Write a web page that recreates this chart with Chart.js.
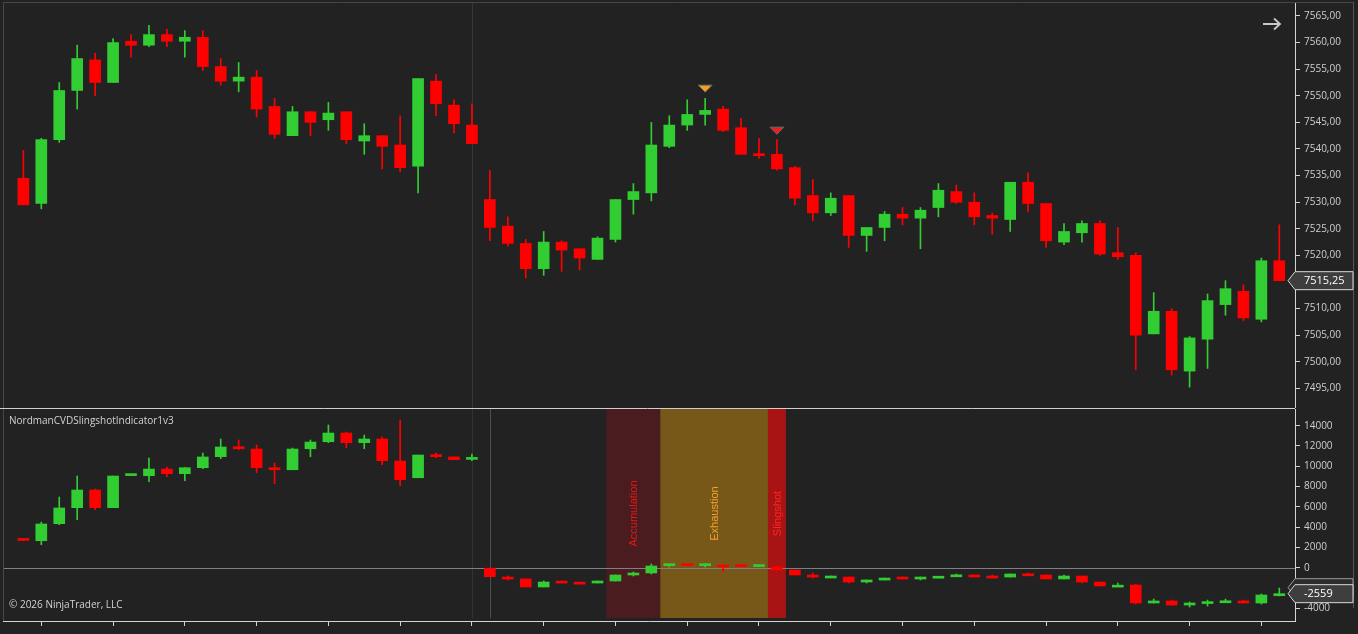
<!DOCTYPE html>
<html>
<head>
<meta charset="utf-8">
<title>ES 7515,25 - CVD Slingshot</title>
<script src="https://cdn.jsdelivr.net/npm/chart.js@4.4.1/dist/chart.umd.min.js"></script>
<style>
  html, body { margin: 0; padding: 0; background: #222222; }
  #wrap { position: relative; width: 1358px; height: 634px; background: #222222; overflow: hidden; }
  canvas { position: absolute; left: 0; }
  #priceChart { top: 0; }
  #cvdChart { top: 408px; }
</style>
</head>
<body>
<div id="wrap">
  <canvas id="priceChart" width="1358" height="408"></canvas>
  <canvas id="cvdChart" width="1358" height="226"></canvas>
</div>
<script>
// ---- price bars (one per x index) ----
const priceOpen  = [7534.5, 7529.75, 7541.75, 7551.0, 7556.75, 7552.5, 7560.25, 7559.5, 7561.5, 7560.25,
  7561.0, 7555.5, 7552.75, 7553.5, 7548.0, 7542.5, 7547.0, 7545.5, 7547.0, 7541.5,
  7542.5, 7540.75, 7536.75, 7552.75, 7548.25, 7544.5, 7530.5, 7525.5, 7522.25, 7517.5,
  7522.5, 7521.25, 7519.25, 7523.0, 7530.5, 7531.75, 7540.5, 7544.5, 7546.5, 7547.5,
  7544.0, 7539.0, 7539.0, 7536.5, 7531.25, 7528.0, 7531.25, 7523.75, 7525.25, 7527.75,
  7527.0, 7529.0, 7532.0, 7530.0, 7527.5, 7526.75, 7533.75, 7529.75, 7522.5, 7524.25,
  7526.0, 7520.5, 7520.0, 7505.25, 7509.5, 7498.25, 7504.25, 7510.75, 7513.25, 7508.0,
  7519.0];
const priceHigh  = [7539.75, 7542.0, 7552.5, 7559.5, 7558.0, 7560.75, 7561.5, 7563.25, 7562.5, 7562.25,
  7562.25, 7557.0, 7556.25, 7554.75, 7549.5, 7548.0, 7547.0, 7548.75, 7547.0, 7544.75,
  7542.5, 7546.25, 7553.25, 7554.0, 7549.25, 7548.5, 7536.0, 7527.25, 7523.0, 7524.5,
  7522.75, 7521.25, 7523.5, 7530.5, 7533.5, 7545.0, 7546.25, 7549.25, 7549.5, 7548.0,
  7545.75, 7542.0, 7541.75, 7536.75, 7534.25, 7531.75, 7531.25, 7525.25, 7528.25, 7529.0,
  7529.0, 7533.5, 7533.25, 7531.75, 7528.0, 7533.75, 7535.5, 7529.75, 7526.0, 7526.5,
  7526.5, 7525.25, 7520.5, 7513.0, 7510.0, 7504.75, 7512.75, 7515.25, 7514.5, 7519.5,
  7525.75];
const priceLow   = [7529.5, 7528.75, 7541.25, 7547.5, 7550.0, 7552.5, 7557.25, 7559.25, 7559.25, 7557.25,
  7554.75, 7552.0, 7550.75, 7546.0, 7542.0, 7542.5, 7542.5, 7543.5, 7541.0, 7539.0,
  7536.25, 7535.75, 7531.75, 7546.25, 7543.0, 7541.0, 7522.75, 7521.75, 7515.75, 7516.25,
  7517.0, 7517.25, 7519.25, 7522.5, 7527.75, 7530.25, 7540.25, 7543.5, 7544.5, 7543.25,
  7539.0, 7538.25, 7536.0, 7529.5, 7526.5, 7527.5, 7521.5, 7520.75, 7522.75, 7525.75,
  7521.25, 7527.25, 7529.75, 7525.75, 7524.0, 7524.5, 7528.25, 7521.5, 7522.0, 7522.5,
  7520.0, 7519.25, 7498.5, 7505.25, 7497.5, 7495.25, 7498.75, 7508.75, 7507.75, 7507.5,
  7515.25];
const priceClose = [7529.5, 7541.75, 7551.0, 7557.0, 7552.5, 7560.0, 7559.5, 7561.5, 7560.25, 7561.0,
  7555.5, 7552.75, 7553.5, 7547.5, 7542.75, 7547.0, 7545.0, 7546.75, 7541.75, 7542.5,
  7540.5, 7536.5, 7553.25, 7548.5, 7544.75, 7541.0, 7525.25, 7522.25, 7517.5, 7522.5,
  7521.0, 7519.5, 7523.25, 7530.5, 7532.0, 7540.75, 7544.5, 7546.5, 7547.25, 7543.5,
  7539.0, 7538.75, 7536.25, 7530.75, 7528.0, 7530.75, 7523.75, 7525.25, 7527.75, 7527.0,
  7528.5, 7532.25, 7530.0, 7527.25, 7527.0, 7533.75, 7529.75, 7522.75, 7524.5, 7526.0,
  7520.25, 7519.75, 7505.0, 7509.5, 7498.5, 7504.5, 7511.5, 7513.75, 7508.25, 7519.0,
  7515.25];

// ---- cumulative volume delta bars ----
const cvdOpen  = [2720, 2660, 4340, 5920, 7660, 5920, 9080, 9070, 9730, 9270,
  9860, 10950, 11930, 11700, 9860, 9660, 11730, 12420, 13280, 12330,
  12690, 10520, 8870, 11110, 10920, 10680, 0, -920, -1110, -1900,
  -1320, -1420, -1510, -1310, -720, -520, 200, 260, 200, 270,
  160, 110, 70, -230, -720, -880, -920, -1410, -1210, -920,
  -960, -880, -760, -720, -820, -920, -600, -720, -1110, -820,
  -1410, -1770, -1710, -3480, -3280, -3680, -3420, -3320, -3280, -3480,
  -2600];
const cvdHigh  = [2720, 4500, 6970, 9040, 7760, 9040, 9140, 10820, 9930, 9860,
  11310, 12690, 12590, 12100, 10320, 11800, 12590, 14070, 13380, 13080,
  12890, 14560, 11110, 11310, 10920, 11210, 0, -820, -1110, -1310,
  -1320, -1420, -1310, -720, -420, 370, 260, 340, 370, 270,
  160, 160, 170, -230, -520, -820, -920, -1210, -1020, -920,
  -920, -840, -620, -720, -720, -620, -520, -720, -720, -820,
  -1410, -1510, -1610, -3090, -3190, -3380, -3190, -3090, -3190, -2590,
  -2000];
const cvdLow   = [2690, 2270, 4240, 4730, 5720, 5920, 9080, 8480, 8970, 8580,
  9760, 10750, 11640, 9370, 8280, 9660, 10950, 12330, 11830, 11730,
  10160, 8090, 8870, 10850, 10650, 10550, -890, -1210, -1900, -1900,
  -1380, -1610, -1510, -1310, -820, -620, 70, 200, 70, -420,
  110, 110, -300, -720, -1020, -880, -1510, -1510, -1210, -970,
  -1210, -1020, -760, -770, -1020, -920, -680, -1110, -1110, -1510,
  -1800, -1770, -3580, -3480, -3680, -3880, -3780, -3320, -3480, -3580,
  -2790];
const cvdClose = [2690, 4310, 5890, 7660, 5920, 9040, 9140, 9730, 9270, 9860,
  10920, 11900, 11730, 9860, 9660, 11700, 12390, 13280, 12330, 12690,
  10550, 8680, 11110, 10950, 10650, 10740, -890, -1110, -1900, -1410,
  -1380, -1470, -1310, -720, -520, 170, 260, 200, 260, 70,
  110, 160, -230, -720, -920, -820, -1410, -1210, -1020, -970,
  -920, -840, -700, -770, -870, -620, -680, -1110, -820, -1410,
  -1800, -1720, -3480, -3280, -3680, -3480, -3340, -3260, -3480, -2690,
  -2559];

// price axis / cvd axis ticks
const priceTicks = [7495, 7500, 7505, 7510, 7515, 7520, 7525, 7530, 7535, 7540, 7545, 7550, 7555, 7560, 7565];
const cvdTicks = [-4000, -2000, 0, 2000, 4000, 6000, 8000, 10000, 12000, 14000];
const timeTicks = [1, 5, 9, 13, 17, 21, 25, 29, 33, 37, 41, 45, 49, 53, 57, 61, 65, 69];

// signal markers on the price panel (bar index / price of the marker top)
const markerIndex = [38, 42];
const markerPrice = [7552.0, 7544.1];

// indicator zones (first and last bar index of each zone)
const zoneLabels = ['Accumulation', 'Exhaustion', 'Slingshot'];
const zoneStart = [33, 36, 42];
const zoneEnd = [35, 41, 42];

const sessionBreakPrice = 25;
const sessionBreakCvd = 26;

// styles
const UP = '#32cd32';
const DOWN = '#ff0000';
const AXIS_TEXT = '#cfcfcf';
const AXIS_LINE = '#d4d4d4';
const markerColors = ['#f5a01a', '#ee1c1c'];
const zoneFill = ['#4b1c1f', '#785818', '#a81414'];
const zoneText = ['#e41818', '#f2a22c', '#ff2424'];

const X_MIN = -1.135;
const X_MAX = 70.875;

Chart.defaults.font.family = "'Open Sans', 'DejaVu Sans', sans-serif";

// wick + body datasets for a set of bars
const candleSets = (open, high, low, close) => {
  const colors = open.map((o, i) => close[i] >= o ? UP : DOWN);
  return [
    {
      data: open.map((o, i) => ({ x: i, y: [low[i], high[i]] })),
      backgroundColor: colors,
      barThickness: 1,
      minBarLength: 1,
      grouped: false,
      order: 2
    },
    {
      data: open.map((o, i) => ({ x: i, y: [o, close[i]] })),
      backgroundColor: colors,
      barThickness: 11,
      minBarLength: 2,
      grouped: false,
      order: 1
    }
  ];
};

// value tag on the right axis
const drawTag = (ctx, y, text, fill, stroke) => {
  ctx.beginPath();
  ctx.moveTo(1288, y);
  ctx.lineTo(1295, y - 9);
  ctx.lineTo(1353, y - 9);
  ctx.lineTo(1353, y + 9);
  ctx.lineTo(1295, y + 9);
  ctx.closePath();
  ctx.fillStyle = fill;
  ctx.fill();
  ctx.strokeStyle = stroke;
  ctx.lineWidth = 1;
  ctx.stroke();
  if (text) {
    ctx.fillStyle = '#ffffff';
    ctx.font = "11px 'Open Sans'";
    ctx.textAlign = 'left';
    ctx.textBaseline = 'middle';
    ctx.fillText(text, 1304, y + 0.5);
  }
};

const vLine = (ctx, x, top, bottom, color) => {
  ctx.strokeStyle = color;
  ctx.lineWidth = 1;
  ctx.beginPath();
  ctx.moveTo(Math.round(x) + 0.5, top);
  ctx.lineTo(Math.round(x) + 0.5, bottom);
  ctx.stroke();
};

const hLine = (ctx, y, left, right, color) => {
  ctx.strokeStyle = color;
  ctx.lineWidth = 1;
  ctx.beginPath();
  ctx.moveTo(left, Math.round(y) + 0.5);
  ctx.lineTo(right, Math.round(y) + 0.5);
  ctx.stroke();
};

const pricePanel = {
  id: 'pricePanel',
  beforeDatasetsDraw(chart) {
    const { ctx, chartArea: a, scales: { x } } = chart;
    ctx.save();
    vLine(ctx, x.getPixelForValue(sessionBreakPrice), a.top, a.bottom, '#363636');
    ctx.restore();
  },
  afterDatasetsDraw(chart) {
    const { ctx, scales: { x, y } } = chart;
    ctx.save();
    markerIndex.forEach((idx, k) => {
      const px = x.getPixelForValue(idx);
      const py = y.getPixelForValue(markerPrice[k]);
      ctx.beginPath();
      ctx.moveTo(px - 7, py);
      ctx.lineTo(px + 7, py);
      ctx.lineTo(px, py + 7);
      ctx.closePath();
      ctx.fillStyle = markerColors[k];
      ctx.fill();
      ctx.strokeStyle = '#6a6a6a';
      ctx.lineWidth = 1;
      ctx.stroke();
    });
    ctx.restore();
  },
  afterDraw(chart) {
    const { ctx, scales: { y } } = chart;
    ctx.save();
    // arrow top right
    ctx.strokeStyle = '#c8c8c8';
    ctx.lineWidth = 1.8;
    ctx.beginPath();
    ctx.moveTo(1263, 24);
    ctx.lineTo(1280, 24);
    ctx.moveTo(1274, 18.5);
    ctx.lineTo(1280, 24);
    ctx.lineTo(1274, 29.5);
    ctx.stroke();
    // frame
    hLine(ctx, 2, 3, 1354, '#474747');
    vLine(ctx, 3, 2, 408, '#474747');
    vLine(ctx, 1353, 2, 408, '#555555');
    // last price tag
    const last = priceClose[priceClose.length - 1];
    drawTag(ctx, y.getPixelForValue(last), last.toFixed(2).replace('.', ','), '#3e3e3e', '#d8d8d8');
    ctx.restore();
  }
};

const cvdPanel = {
  id: 'cvdPanel',
  beforeDatasetsDraw(chart) {
    const { ctx, chartArea: a, scales: { x, y } } = chart;
    ctx.save();
    const zb = a.bottom - 3;
    zoneLabels.forEach((label, k) => {
      const x0 = x.getPixelForValue(zoneStart[k] - 0.5);
      const x1 = x.getPixelForValue(zoneEnd[k] + 0.5);
      ctx.fillStyle = zoneFill[k];
      ctx.fillRect(x0, a.top, x1 - x0, zb - a.top);
    });
    zoneLabels.forEach((label, k) => {
      const cx = x.getPixelForValue((zoneStart[k] + zoneEnd[k]) / 2);
      ctx.save();
      ctx.translate(cx + 1, (a.top + zb) / 2);
      ctx.rotate(-Math.PI / 2);
      ctx.font = "11px 'Liberation Sans'";
      ctx.fillStyle = zoneText[k];
      ctx.textAlign = 'center';
      ctx.textBaseline = 'middle';
      ctx.fillText(label, 0, 0);
      ctx.restore();
    });
    vLine(ctx, x.getPixelForValue(sessionBreakPrice), a.top, zb, '#333333');
    vLine(ctx, x.getPixelForValue(sessionBreakCvd), a.top, zb, '#4e4e4e');
    hLine(ctx, y.getPixelForValue(0), a.left, a.right, '#808080');
    ctx.restore();
  },
  afterDraw(chart) {
    const { ctx, chartArea: a, scales: { y } } = chart;
    ctx.save();
    hLine(ctx, 0, 0, 1295, '#d0d0d0');
    vLine(ctx, 3, 1, a.bottom, '#474747');
    vLine(ctx, 1353, 0, 200, '#555555');
    ctx.font = "10px 'Open Sans'";
    ctx.fillStyle = '#d2d2d2';
    ctx.textAlign = 'left';
    ctx.textBaseline = 'middle';
    ctx.fillText('NordmanCVDSlingshotIndicator1v3', 9, 13);
    ctx.fillText('\u00a9 2026 NinjaTrader, LLC', 9, 197);
    const last = cvdClose[cvdClose.length - 1];
    const ty = y.getPixelForValue(last);
    drawTag(ctx, ty - 6, '', '#2c2c2c', '#9a9a9a');
    drawTag(ctx, ty, String(last), '#3e3e3e', '#d8d8d8');
    ctx.restore();
  }
};

const baseOptions = (yMin, yMax, yTicks, fmt, xAxis, padTop) => ({
  responsive: false,
  animation: false,
  events: [],
  layout: { padding: { left: 3, top: padTop, right: 5, bottom: 0 } },
  plugins: { legend: { display: false }, tooltip: { enabled: false } },
  scales: {
    x: xAxis,
    y: {
      type: 'linear',
      position: 'right',
      min: yMin,
      max: yMax,
      grid: { drawOnChartArea: false, drawTicks: true, tickLength: 5, color: AXIS_LINE, tickColor: AXIS_LINE },
      border: { display: true, color: AXIS_LINE, width: 1 },
      ticks: { color: AXIS_TEXT, font: { size: 10 }, padding: 4, autoSkip: false, callback: fmt },
      afterBuildTicks: s => { s.ticks = yTicks.map(v => ({ value: v })); },
      afterFit: s => {
        s.width = 58;
        // labels sit well inside the panel, no extra room needed
        s.paddingTop = 0;
        s.paddingBottom = 0;
      }
    }
  }
});

new Chart(document.getElementById('priceChart'), {
  type: 'bar',
  data: { datasets: candleSets(priceOpen, priceHigh, priceLow, priceClose) },
  options: baseOptions(7491.32, 7567.44, priceTicks, v => v.toFixed(2).replace('.', ','),
    { type: 'linear', display: false, min: X_MIN, max: X_MAX, offset: false }, 3),
  plugins: [pricePanel]
});

new Chart(document.getElementById('cvdChart'), {
  type: 'bar',
  data: { datasets: candleSets(cvdOpen, cvdHigh, cvdLow, cvdClose) },
  options: baseOptions(-5255, 15648, cvdTicks, v => String(v), {
    type: 'linear',
    min: X_MIN,
    max: X_MAX,
    offset: false,
    grid: { drawOnChartArea: false, drawTicks: true, tickLength: 5, offset: false, color: AXIS_LINE, tickColor: AXIS_LINE },
    border: { display: true, color: AXIS_LINE, width: 1 },
    ticks: { display: false },
    afterBuildTicks: s => { s.ticks = timeTicks.map(v => ({ value: v })); },
    afterFit: s => { s.height = 13; }
  }, 1),
  plugins: [cvdPanel]
});
</script>
</body>
</html>
